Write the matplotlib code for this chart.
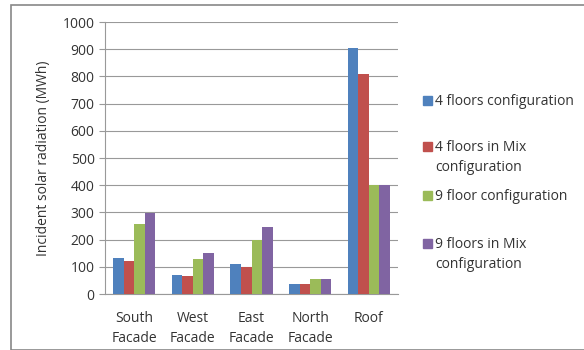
import numpy as np
import matplotlib.pyplot as plt
from matplotlib.patches import Rectangle

categories = ['South\nFacade', 'West\nFacade', 'East\nFacade', 'North\nFacade', 'Roof']
series_names = ['4 floors configuration', '4 floors in Mix\nconfiguration',
                '9 floor configuration', '9 floors in Mix\nconfiguration']
four_floors = [133, 70, 110, 35, 903]
four_floors_mix = [120, 67, 100, 35, 808]
nine_floors = [258, 130, 197, 55, 400]
nine_floors_mix = [296, 150, 245, 55, 400]
colors = ['#4F81BD', '#C0504D', '#9BBB59', '#8064A2']

plt.rcParams['font.family'] = ['Open Sans', 'DejaVu Sans']

fig = plt.figure(figsize=(5.84, 3.5), dpi=100)
fig.patches.append(Rectangle((11 / 584, 0), 1, 1 - 5 / 350, transform=fig.transFigure,
                             fill=False, edgecolor='#888888', lw=1.2))
ax = fig.add_axes([105 / 584, 56 / 350, 293 / 584, 272 / 350])

x = np.arange(len(categories))
w = 0.18
data = [four_floors, four_floors_mix, nine_floors, nine_floors_mix]
for i, vals in enumerate(data):
    ax.bar(x + (i - 1.5) * w, vals, w, color=colors[i], label=series_names[i], zorder=3)

ax.set_xlim(-0.5, len(categories) - 0.5)
ax.set_ylim(0, 1000)
ax.set_yticks(np.arange(0, 1001, 100))
ax.set_xticks(x)
ax.set_xticklabels(categories, fontsize=10, color='#333333', linespacing=1.45)
ax.tick_params(axis='y', labelsize=10, labelcolor='#333333', length=4, color='#999999')
ax.tick_params(axis='x', length=0, pad=12)
ax.grid(axis='y', color='#999999', lw=0.8, zorder=0)
for s in ['top', 'right']:
    ax.spines[s].set_visible(False)
for s in ['left', 'bottom']:
    ax.spines[s].set_color('#999999')
ax.set_ylabel('Incident solar radiation (MWh)', fontsize=10, color='#333333', labelpad=8)

# legend: square marker aligned with the first line of each label
entry_y = [100, 146, 195, 243]
for name, c, yy in zip(series_names, colors, entry_y):
    yf = 1 - yy / 350
    fig.patches.append(Rectangle((423 / 584, yf - 4.5 / 350), 9 / 584, 9 / 350,
                                 transform=fig.transFigure, color=c))
    fig.text(435 / 584, yf + 6 / 350, name, fontsize=10, color='#333333',
             va='top', ha='left', linespacing=1.45)

fig.savefig('out.png', dpi=100)
